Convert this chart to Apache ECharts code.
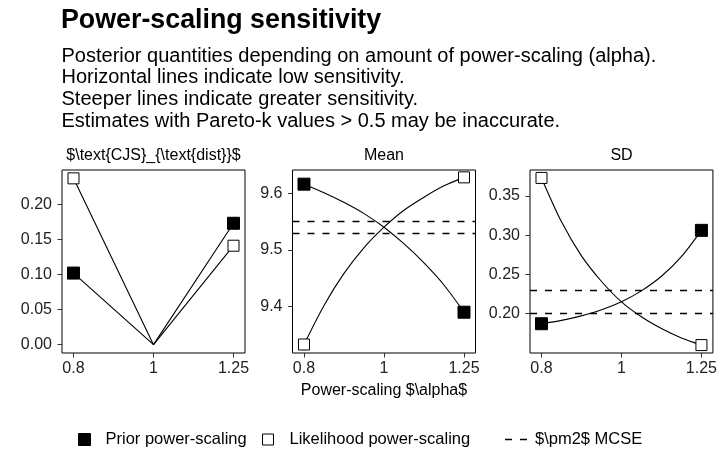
<!DOCTYPE html>
<html>
<head>
<meta charset="utf-8">
<script src="https://cdn.jsdelivr.net/npm/echarts@6/dist/echarts.min.js"></script>
<style>
html,body{margin:0;padding:0;background:#fff;}
#chart{width:720px;height:452px;}
</style>
</head>
<body>
<div id="chart"></div>
<script>
// ---- data ----
const alphaGrid = [0.8, 0.846, 0.894, 0.946, 1, 1.057, 1.118, 1.182, 1.25];
const alphaCJS = [0.8, 1, 1.25];

const cjsPrior = [0.102, 0, 0.173];
const cjsLikelihood = [0.237, 0, 0.141];

const meanPrior = [9.616, 9.601, 9.584, 9.564, 9.540, 9.511, 9.477, 9.438, 9.390];
const meanLikelihood = [9.333, 9.402, 9.458, 9.504, 9.540, 9.570, 9.593, 9.613, 9.628];

const sdPrior = [0.1872, 0.1915, 0.1972, 0.2049, 0.2152, 0.2291, 0.2477, 0.2727, 0.3062];
const sdLikelihood = [0.373, 0.317, 0.274, 0.241, 0.215, 0.196, 0.181, 0.169, 0.160];

const meanMcse = [9.527, 9.553];
const sdMcse = [0.2013, 0.2324];

const xTickValues = [0.8, 1, 1.25];
const xTickLabels = ['0.8', '1', '1.25'];
const cjsTicks = [0, 0.05, 0.10, 0.15, 0.20];
const meanTicks = [9.4, 9.5, 9.6];
const sdTicks = [0.20, 0.25, 0.30, 0.35];

const panelTitles = ['$\\text{CJS}_{\\text{dist}}$', 'Mean', 'SD'];
const titleText = 'Power-scaling sensitivity';
const subtitleLines = [
  'Posterior quantities depending on amount of power-scaling (alpha).',
  'Horizontal lines indicate low sensitivity.',
  'Steeper lines indicate greater sensitivity.',
  'Estimates with Pareto-k values > 0.5 may be inaccurate.'
];
const priorName = 'Prior power-scaling';
const likName = 'Likelihood power-scaling';
const mcseName = '$\\pm2$ MCSE';
const xAxisTitle = 'Power-scaling $\\alpha$';

// ---- helpers ----
const FONT = "'Liberation Sans', Arial, Helvetica, sans-serif";
const toPts = (xs, ys) => xs.map((a, i) => [Math.log(a), ys[i]]);
const ends = (xs, ys) => [[Math.log(xs[0]), ys[0]], [Math.log(xs[xs.length - 1]), ys[ys.length - 1]]];

const grids = [
  {left: 62, top: 170, width: 183, height: 183},
  {left: 292.5, top: 170, width: 183, height: 183},
  {left: 530, top: 170, width: 183, height: 183}
];
const yRanges = [[-0.0119, 0.2489], [9.318, 9.641], [0.1499, 0.3831]];
const yTicks = [cjsTicks, meanTicks, sdTicks];
const yDec = [2, 1, 2];
const xPad = 0.2552;

const xAxes = grids.map((g, i) => ({
  type: 'value', gridIndex: i, min: -xPad, max: xPad, position: 'bottom',
  axisLine: {show: false, onZero: false},
  splitLine: {show: false},
  axisTick: {show: true, length: 4.5, lineStyle: {color: '#333', width: 1},
    customValues: xTickValues.map(Math.log)},
  axisLabel: {
    customValues: xTickValues.map(Math.log),
    margin: 8, fontSize: 16, color: '#222', fontFamily: FONT,
    formatter: v => {
      let best = 0, bd = Infinity;
      xTickValues.forEach((t, k) => { const d = Math.abs(Math.log(t) - v); if (d < bd) { bd = d; best = k; } });
      return xTickLabels[best];
    }
  },
  name: i === 1 ? xAxisTitle : '',
  nameLocation: 'middle', nameGap: 30,
  nameTextStyle: {fontSize: 16, color: '#000', fontFamily: FONT}
}));

const yAxes = grids.map((g, i) => ({
  type: 'value', gridIndex: i, min: yRanges[i][0], max: yRanges[i][1], position: 'left',
  axisLine: {show: false, onZero: false},
  splitLine: {show: false},
  axisTick: {show: true, length: 4.5, lineStyle: {color: '#333', width: 1}, customValues: yTicks[i]},
  axisLabel: {customValues: yTicks[i], margin: 10, fontSize: 16, color: '#222', fontFamily: FONT,
    formatter: v => Number(v).toFixed(yDec[i])}
}));

const lineStyle = {color: '#000', width: 1.1};
const series = [];
const panelData = [
  {x: alphaCJS, p: cjsPrior, l: cjsLikelihood, smooth: false},
  {x: alphaGrid, p: meanPrior, l: meanLikelihood, smooth: 0.3, mcse: meanMcse},
  {x: alphaGrid, p: sdPrior, l: sdLikelihood, smooth: 0.3, mcse: sdMcse}
];
panelData.forEach((d, i) => {
  series.push({type: 'line', name: 'prior-curve-' + i, xAxisIndex: i, yAxisIndex: i,
    data: toPts(d.x, d.p), showSymbol: false, symbol: 'none', smooth: d.smooth,
    lineStyle: lineStyle, z: 2, silent: true});
  series.push({type: 'line', name: 'lik-curve-' + i, xAxisIndex: i, yAxisIndex: i,
    data: toPts(d.x, d.l), showSymbol: false, symbol: 'none', smooth: d.smooth,
    lineStyle: lineStyle, z: 2, silent: true});
  if (d.mcse) {
    series.push({type: 'line', name: mcseName, xAxisIndex: i, yAxisIndex: i, data: [],
      color: '#000', symbol: 'none',
      lineStyle: {color: '#000', width: 1.3, type: [7, 8]},
      markLine: {symbol: 'none', silent: true, label: {show: false},
        lineStyle: {color: '#000', width: 1.3, type: [7, 8]},
        emphasis: {disabled: true},
        data: d.mcse.map(v => ({yAxis: v}))}});
  }
  series.push({type: 'scatter', name: priorName, xAxisIndex: i, yAxisIndex: i,
    data: ends(d.x, d.p), symbol: 'rect', symbolSize: 12,
    itemStyle: {color: '#000', borderColor: '#000', borderWidth: 1, opacity: 1}, z: 4, silent: true});
  series.push({type: 'scatter', name: likName, xAxisIndex: i, yAxisIndex: i,
    data: ends(d.x, d.l), symbol: 'rect', symbolSize: 11,
    itemStyle: {color: '#fff', borderColor: '#000', borderWidth: 1, opacity: 1}, z: 4, silent: true});
});

const legendText = {fontSize: 16.5, color: '#000', fontFamily: FONT};
const option = {
  backgroundColor: '#fff',
  animation: false,
  grid: grids.map(g => Object.assign({show: true, borderColor: '#000', borderWidth: 1, backgroundColor: 'transparent'}, g)),
  xAxis: xAxes,
  yAxis: yAxes,
  legend: [
    {data: [{name: priorName, icon: 'rect'}], left: 78, top: 431, itemWidth: 12, itemHeight: 12,
      selectedMode: false, padding: 0,
      itemStyle: {color: '#000', borderColor: '#000', borderWidth: 1, opacity: 1},
      textStyle: Object.assign({padding: [0, 0, 0, 10]}, legendText)},
    {data: [{name: likName, icon: 'rect'}], left: 262, top: 431, itemWidth: 11, itemHeight: 11,
      selectedMode: false, padding: 0,
      itemStyle: {color: '#fff', borderColor: '#000', borderWidth: 1, opacity: 1},
      textStyle: Object.assign({padding: [0, 0, 0, 11]}, legendText)},
    {data: [{name: mcseName, icon: 'path://M0,0h7v1.4h-7z M15,0h7v1.4h-7z'}], left: 505, top: 431,
      itemWidth: 22, itemHeight: 11, selectedMode: false, padding: 0,
      itemStyle: {color: '#000', borderWidth: 0, opacity: 1},
      textStyle: Object.assign({padding: [0, 0, 0, 3]}, legendText)}
  ],
  graphic: [
    {type: 'text', x: 61, y: 21, silent: true,
      style: {text: titleText, font: "bold 26.8px " + FONT, fill: '#000', verticalAlign: 'middle', align: 'left'}},
    {type: 'text', x: 61.5, y: 45.5, silent: true,
      style: {text: subtitleLines.join('\n'), font: "20px " + FONT, lineHeight: 21.6, fill: '#000', verticalAlign: 'top', align: 'left'}}
  ].concat(grids.map((g, i) => ({
    type: 'text', x: g.left + g.width / 2, y: 155.8, silent: true,
    style: {text: panelTitles[i], font: "16px " + FONT, fill: '#000', align: 'center', verticalAlign: 'middle'}
  }))),
  series: series
};

const chart = echarts.init(document.getElementById('chart'), null, {renderer: 'canvas'});
chart.setOption(option);
</script>
</body>
</html>
